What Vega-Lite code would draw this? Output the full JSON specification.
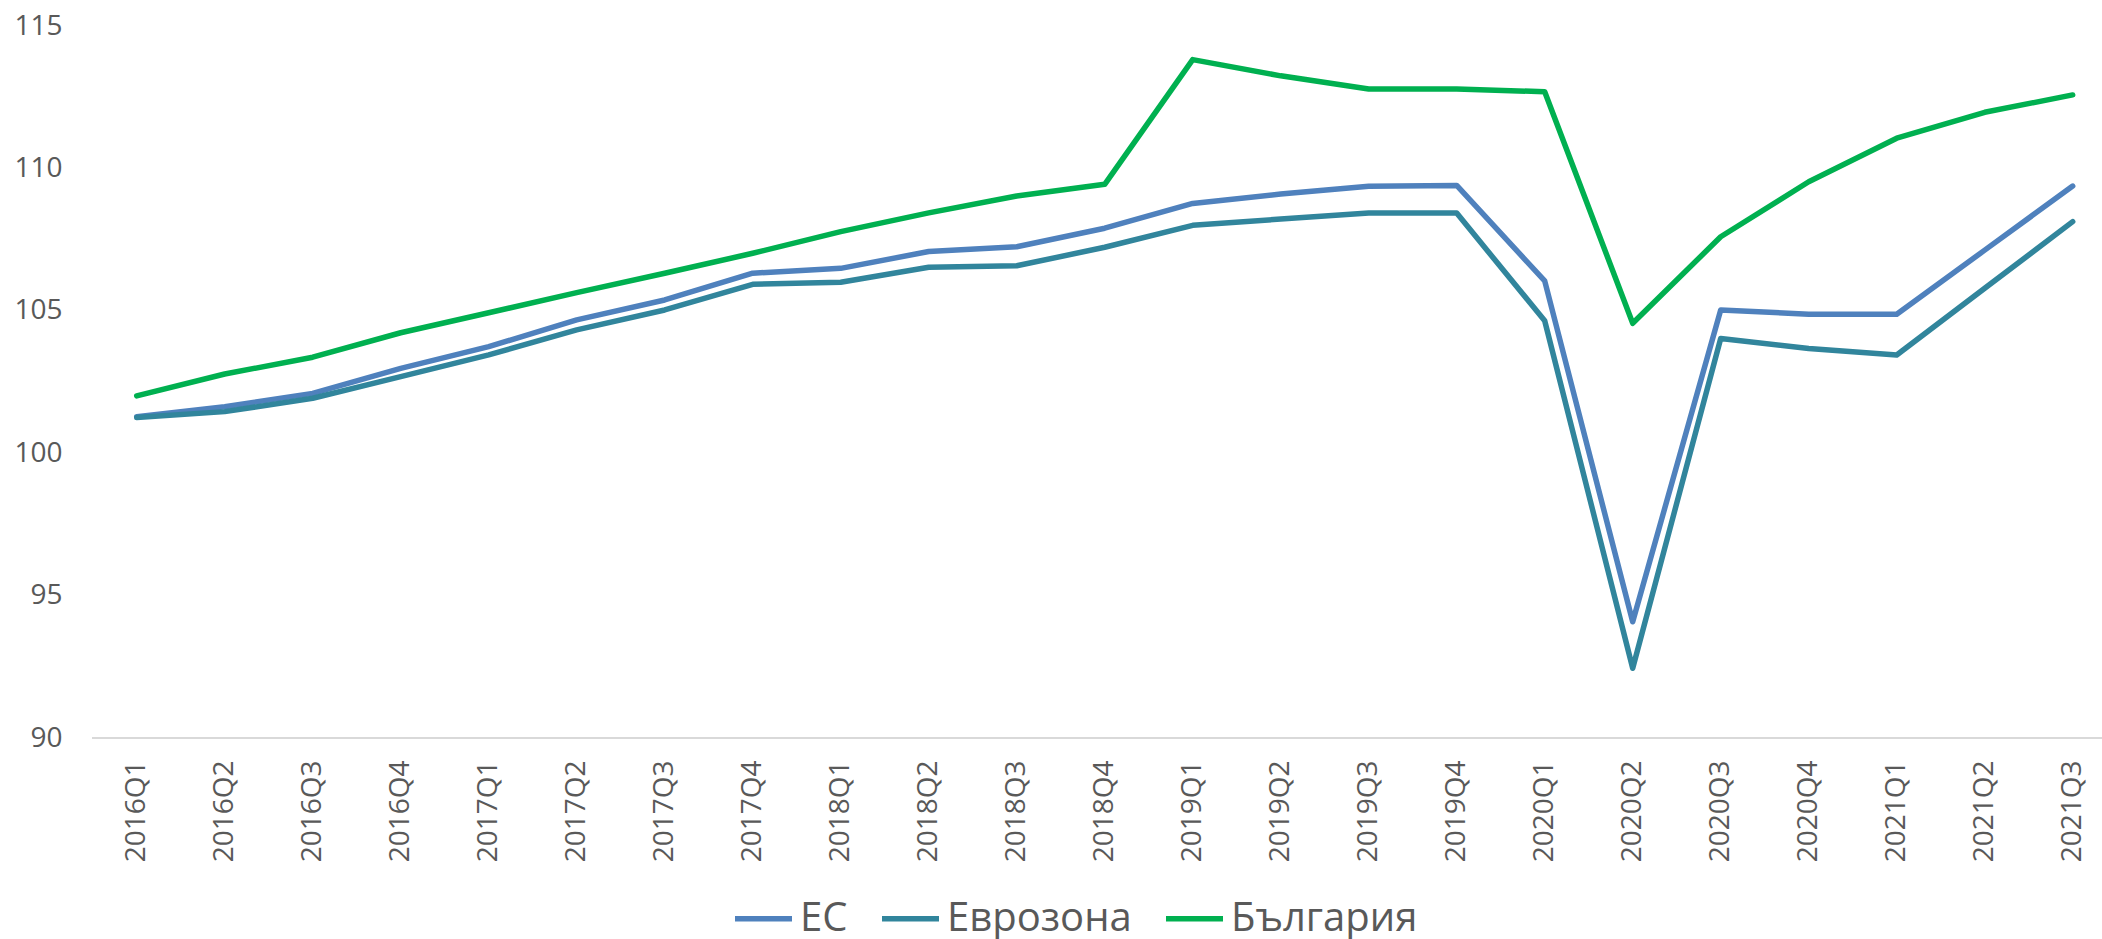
{
  "$schema": "https://vega.github.io/schema/vega-lite/v6.json",
  "width": 2010,
  "height": 712,
  "autosize": {"type": "none"},
  "padding": {"left": 92, "top": 26, "right": 0, "bottom": 201},
  "background": "white",
  "config": {
    "font": "Open Sans",
    "view": {"stroke": null}
  },
  "datasets": {
    "series": [
      {"q": "2016Q1", "s": "ЕС", "v": 101.28}, {"q": "2016Q2", "s": "ЕС", "v": 101.63}, {"q": "2016Q3", "s": "ЕС", "v": 102.10},
      {"q": "2016Q4", "s": "ЕС", "v": 102.98}, {"q": "2017Q1", "s": "ЕС", "v": 103.74}, {"q": "2017Q2", "s": "ЕС", "v": 104.68},
      {"q": "2017Q3", "s": "ЕС", "v": 105.38}, {"q": "2017Q4", "s": "ЕС", "v": 106.32}, {"q": "2018Q1", "s": "ЕС", "v": 106.49},
      {"q": "2018Q2", "s": "ЕС", "v": 107.08}, {"q": "2018Q3", "s": "ЕС", "v": 107.25}, {"q": "2018Q4", "s": "ЕС", "v": 107.90},
      {"q": "2019Q1", "s": "ЕС", "v": 108.77}, {"q": "2019Q2", "s": "ЕС", "v": 109.10}, {"q": "2019Q3", "s": "ЕС", "v": 109.37},
      {"q": "2019Q4", "s": "ЕС", "v": 109.40}, {"q": "2020Q1", "s": "ЕС", "v": 106.05}, {"q": "2020Q2", "s": "ЕС", "v": 94.08},
      {"q": "2020Q3", "s": "ЕС", "v": 105.03}, {"q": "2020Q4", "s": "ЕС", "v": 104.88}, {"q": "2021Q1", "s": "ЕС", "v": 104.88},
      {"q": "2021Q2", "s": "ЕС", "v": 107.13}, {"q": "2021Q3", "s": "ЕС", "v": 109.38},

      {"q": "2016Q1", "s": "Еврозона", "v": 101.25}, {"q": "2016Q2", "s": "Еврозона", "v": 101.46}, {"q": "2016Q3", "s": "Еврозона", "v": 101.93},
      {"q": "2016Q4", "s": "Еврозона", "v": 102.69}, {"q": "2017Q1", "s": "Еврозона", "v": 103.45}, {"q": "2017Q2", "s": "Еврозона", "v": 104.33},
      {"q": "2017Q3", "s": "Еврозона", "v": 105.03}, {"q": "2017Q4", "s": "Еврозона", "v": 105.93}, {"q": "2018Q1", "s": "Еврозона", "v": 106.00},
      {"q": "2018Q2", "s": "Еврозона", "v": 106.53}, {"q": "2018Q3", "s": "Еврозона", "v": 106.58}, {"q": "2018Q4", "s": "Еврозона", "v": 107.23},
      {"q": "2019Q1", "s": "Еврозона", "v": 108.00}, {"q": "2019Q2", "s": "Еврозона", "v": 108.22}, {"q": "2019Q3", "s": "Еврозона", "v": 108.43},
      {"q": "2019Q4", "s": "Еврозона", "v": 108.43}, {"q": "2020Q1", "s": "Еврозона", "v": 104.65}, {"q": "2020Q2", "s": "Еврозона", "v": 92.45},
      {"q": "2020Q3", "s": "Еврозона", "v": 104.03}, {"q": "2020Q4", "s": "Еврозона", "v": 103.68}, {"q": "2021Q1", "s": "Еврозона", "v": 103.45},
      {"q": "2021Q2", "s": "Еврозона", "v": 105.79}, {"q": "2021Q3", "s": "Еврозона", "v": 108.13},

      {"q": "2016Q1", "s": "България", "v": 102.01}, {"q": "2016Q2", "s": "България", "v": 102.78}, {"q": "2016Q3", "s": "България", "v": 103.37},
      {"q": "2016Q4", "s": "България", "v": 104.23}, {"q": "2017Q1", "s": "България", "v": 104.93}, {"q": "2017Q2", "s": "България", "v": 105.64},
      {"q": "2017Q3", "s": "България", "v": 106.32}, {"q": "2017Q4", "s": "България", "v": 107.02}, {"q": "2018Q1", "s": "България", "v": 107.78},
      {"q": "2018Q2", "s": "България", "v": 108.44}, {"q": "2018Q3", "s": "България", "v": 109.03}, {"q": "2018Q4", "s": "България", "v": 109.44},
      {"q": "2019Q1", "s": "България", "v": 113.82}, {"q": "2019Q2", "s": "България", "v": 113.25}, {"q": "2019Q3", "s": "България", "v": 112.79},
      {"q": "2019Q4", "s": "България", "v": 112.79}, {"q": "2020Q1", "s": "България", "v": 112.69}, {"q": "2020Q2", "s": "България", "v": 104.56},
      {"q": "2020Q3", "s": "България", "v": 107.60}, {"q": "2020Q4", "s": "България", "v": 109.53}, {"q": "2021Q1", "s": "България", "v": 111.06},
      {"q": "2021Q2", "s": "България", "v": 111.97}, {"q": "2021Q3", "s": "България", "v": 112.58}
    ],
    "base": [{"b": 90}]
  },
  "layer": [
    {
      "data": {"name": "base"},
      "mark": {"type": "rule", "color": "#d9d9d9", "strokeWidth": 2},
      "encoding": {
        "y": {"field": "b", "type": "quantitative", "scale": {"domain": [90, 115], "nice": false, "zero": false}}
      }
    },
    {
      "data": {"name": "series"},
      "mark": {"type": "line", "strokeWidth": 5.5, "strokeCap": "round", "strokeJoin": "round"},
      "encoding": {
        "x": {
          "field": "q",
          "type": "ordinal",
          "sort": null,
          "scale": {"type": "point", "range": [44.7, 1980.7], "padding": 0},
          "axis": {
            "title": null,
            "labelAngle": -90,
            "labelFontSize": 28,
            "labelColor": "#595959",
            "labelPadding": 22,
            "ticks": false,
            "domain": false,
            "grid": false
          }
        },
        "y": {
          "field": "v",
          "type": "quantitative",
          "scale": {"domain": [90, 115], "nice": false, "zero": false},
          "axis": {
            "title": null,
            "values": [90, 95, 100, 105, 110, 115],
            "labelFontSize": 28,
            "labelColor": "#595959",
            "labelPadding": 30,
            "ticks": false,
            "domain": false,
            "grid": false
          }
        },
        "color": {
          "field": "s",
          "type": "nominal",
          "scale": {
            "domain": ["ЕС", "Еврозона", "България"],
            "range": ["#4f81bd", "#31859c", "#00b050"]
          },
          "legend": {
            "title": null,
            "orient": "none",
            "direction": "horizontal",
            "legendX": 640,
            "legendY": 861,
            "padding": 0,
            "symbolType": "stroke",
            "symbolSize": 3249,
            "symbolStrokeWidth": 5.5,
            "labelFontSize": 40,
            "labelColor": "#595959",
            "labelOffset": 5,
            "columnPadding": 23,
            "labelLimit": 400
          }
        }
      }
    }
  ]
}
